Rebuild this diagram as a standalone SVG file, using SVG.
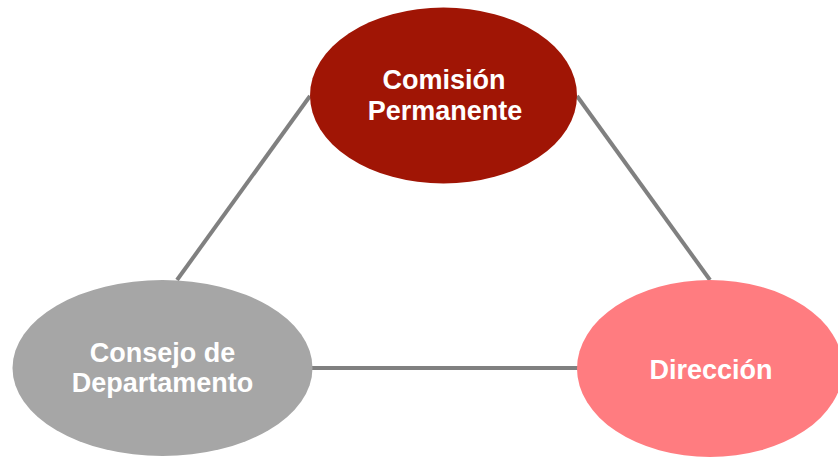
<svg xmlns="http://www.w3.org/2000/svg" width="838" height="458" viewBox="0 0 838 458">
<style>
.lbl{font-family:"Liberation Sans",Arial,sans-serif;font-weight:bold;font-size:27px;fill:#ffffff;text-anchor:middle}
.con{stroke:#808080;stroke-width:4;fill:none}
</style>
<rect width="838" height="458" fill="#ffffff"/>
<g id="connectors">
<line class="con" x1="310" y1="96" x2="177" y2="280"/>
<line class="con" x1="577" y1="96" x2="710" y2="280"/>
<line class="con" x1="312" y1="368" x2="578" y2="368"/>
</g>
<g id="comision">
<ellipse cx="443.5" cy="95.5" rx="133.5" ry="88" fill="#A01505"/>
<text class="lbl" x="444" y="88.5">Comisión</text>
<text class="lbl" x="445" y="120">Permanente</text>
</g>
<g id="consejo">
<ellipse cx="162.5" cy="368" rx="150" ry="88" fill="#A6A6A6"/>
<text class="lbl" x="162.5" y="362">Consejo de</text>
<text class="lbl" x="162.5" y="392">Departamento</text>
</g>
<g id="direccion">
<ellipse cx="710" cy="368.5" rx="133" ry="88.5" fill="#FF7C80"/>
<text class="lbl" x="711" y="378.5">Dirección</text>
</g>
</svg>
